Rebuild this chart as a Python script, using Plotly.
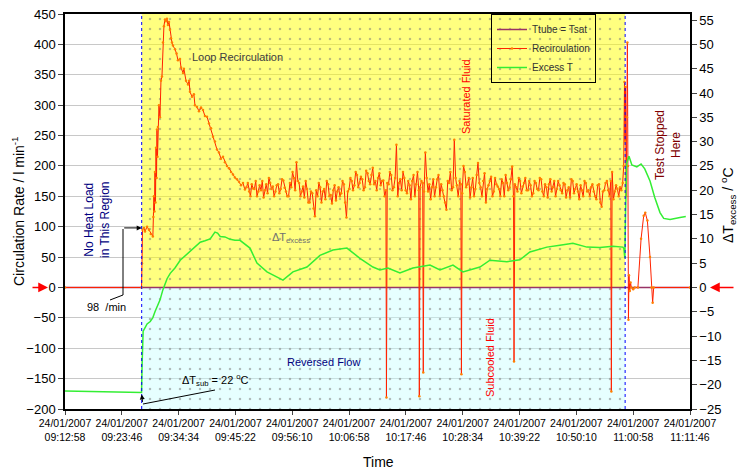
import numpy as np
import pandas as pd
import plotly.graph_objects as go

# ---------------- data ----------------
BASE = pd.Timestamp("2007-01-24 09:12:58")
tick_times = ["09:12:58", "09:23:46", "09:34:34", "09:45:22", "09:56:10", "10:06:58",
              "10:17:46", "10:28:34", "10:39:22", "10:50:10", "11:00:58", "11:11:46"]
tick_date = "24/01/2007"

heat_on_min = 14.58      # start of heat load (minutes after 09:12:58)
test_stop_min = 106.47   # test stopped
axis_end_min = 118.8

ttube_min = [0.0, 118.8]
ttube_val = [0, 0]

recirc_rise_min = [0.0, 14.55, 14.63, 14.73, 15.0, 15.2, 15.6, 15.96, 16.3, 16.7,
                   16.8, 16.9, 17.0, 17.1, 17.2, 17.3, 17.4, 17.48, 17.58, 17.67,
                   17.86, 18.05, 18.24, 18.43, 18.62, 18.8, 19.0, 19.2, 19.38, 19.57,
                   19.77, 19.96, 20.15, 20.33, 20.52, 20.91, 21.2, 21.47, 21.85, 22.05,
                   22.43, 22.6, 23.0, 23.38, 23.6, 23.75, 24.14, 24.5, 24.7, 25.09,
                   25.47, 25.85, 26.23, 26.6, 26.99, 27.37, 27.75, 28.13, 28.5, 28.89,
                   29.27, 29.65, 30.03, 30.4, 30.79, 31.17, 31.55, 31.93, 32.3, 32.69,
                   33.07, 33.45, 33.83, 34.2]
recirc_rise_val = [0, 0, 40, 95, 98, 92, 100, 95, 88, 84,
                   116, 150, 125, 190, 140, 230, 180, 260, 215, 264,
                   300, 280, 340, 347, 403, 430, 441, 438, 442, 432,
                   437, 424, 410, 403, 398, 392, 385, 374, 376, 362,
                   353, 360, 340, 334, 340, 322, 314, 318, 300, 297,
                   290, 296, 292, 282, 281, 270, 262, 248, 240, 227,
                   222, 212, 215, 206, 200, 196, 190, 186, 181, 178,
                   174, 168, 172, 161]

# steady two-phase band, logged every 0.25 min from 34.5 to 106.0 min
# (even samples at 34.5, 35.0, ... and odd samples at 34.75, 35.25, ...)
band_start_min = 34.5
band_step_min = 0.5
recirc_band_even = [
    165, 158, 170, 162, 150, 168, 175, 160, 155, 172, 166, 158,
    170, 162, 176, 158, 150, 165, 180, 206, 172, 158, 148, 162,
    140, 155, 117, 150, 165, 158, 145, 170, 152, 160, 143, 165,
    155, 170, 115, 162, 175, 168, 185, 172, 178, 165, 188, 170,
    197, 175, 180, 168, 176, 160, 170, 185, 165, 235, 172, 160,
    180, 155, 168, 175, 150, 190, 165, 172, 222, 158, 145, 178,
    165, 185, 170, 150, 128, 172, 160, 243, 168, 175, 155, 190,
    170, 148, 180, 162, 205, 165, 175, 140, 168, 182, 158, 170,
    162, 178, 150, 172, 165, 199, 170, 158, 175, 166, 180, 160,
    168, 155, 172, 160, 178, 150, 165, 170, 158, 175, 162, 168,
    155, 170, 160, 148, 175, 162, 158, 168, 150, 172, 160, 165,
    158, 145, 170, 133, 160, 175, 150, 190, 158, 162, 165, 172,
]
recirc_band_odd = [
    172, 150, 163, 175, 158, 160, 148, 170, 180, 162, 150, 168,
    155, 178, 164, 150, 172, 190, 160, 175, 150, 166, 175, 140,
    158, 130, 160, 172, 140, 162, 175, 150, 138, 168, 158, 150,
    175, 140, 158, 180, 160, 190, 165, 182, 160, 192, 175, 185,
    170, 160, 188, 175, 150, 172, 190, 160, 180, 150, 178, 190,
    160, 175, 145, 185, 170, 160, 175, 158, 180, 170, 165, 150,
    178, 150, 160, 140, 175, 190, 165, 180, 150, 170, 200, 165,
    180, 165, 150, 185, 172, 150, 188, 162, 175, 150, 180, 166,
    150, 172, 185, 160, 178, 150, 165, 180, 155, 172, 160, 175,
    150, 175, 162, 180, 158, 170, 148, 178, 165, 150, 175, 160,
    172, 148, 165, 178, 155, 170, 145, 160, 175, 158, 150, 170,
    150, 168, 140, 158, 172, 160, 175, 145, 168, 150, 160,
]
spike_min = [61.1, 67.35, 68.1, 75.35, 85.35, 103.85]
spike_val = [-181, -179, -140, -143, -122, -171]

recirc_end_min = [106.2, 106.35, 106.45, 106.55, 106.65, 106.8, 106.9, 107.0, 107.1, 107.2,
                  107.35, 107.5, 107.65, 108.0, 108.3, 108.9, 109.5, 110.0, 110.3, 110.7,
                  111.2, 111.5, 111.7, 111.9, 118.8]
recirc_end_val = [200, 338, 240, 330, 150, 280, 403, 200, -53, 20,
                  -6, 8, 0, -3, 0, 0, 80, 118, 123, 110,
                  50, 0, -25, 0, 0]

excess_min = [0, 5, 10, 14.55, 14.65, 14.75, 14.85, 15.2, 15.6, 16.2,
              16.7, 17.1, 17.5, 18.05, 18.6, 19.0, 19.4, 20.0, 20.9, 21.9,
              22.8, 23.8, 24.7, 25.7, 26.6, 27.6, 28.5, 29.0, 29.5, 30.4,
              31.4, 32.3, 33.26, 35.16, 36.49, 38.39, 41.43, 43.33, 45.99, 48.46,
              50.93, 53.59, 56.06, 58.53, 59.86, 61.38, 63.66, 66.13, 69.37, 71.27,
              73.74, 75.64, 78.87, 80.77, 84.0, 86.47, 88.37, 91.6, 94.07, 96.54,
              99.2, 101.67, 104.14, 106.04, 106.23, 106.42, 106.5, 106.6, 106.75, 107.2,
              107.75, 108.7, 109.5, 110.2, 111.2, 112.1, 113.1, 113.8, 115.0, 116.9,
              118.0]
excess_val = [-21.3, -21.4, -21.5, -21.6, -16, -12, -9, -8.3, -7.5, -7.0,
              -6.2, -5.0, -3.8, -2.6, -0.5, 0.8, 1.8, 2.9, 4.0, 5.6,
              6.5, 7.6, 8.4, 9.3, 9.6, 10.0, 11.4, 11.2, 10.5, 10.4,
              9.9, 9.7, 9.7, 8.1, 5.0, 3.2, 1.5, 3.2, 4.2, 6.6,
              7.7, 8.1, 6.0, 4.2, 3.6, 4.0, 3.0, 4.0, 4.6, 3.6,
              4.6, 3.2, 4.2, 5.6, 5.3, 5.7, 7.3, 8.3, 8.7, 9.1,
              8.3, 8.2, 8.5, 8.3, 8.0, 6.0, 12, 20, 25.5, 27.0,
              25.2, 24.8, 25.4, 24.4, 21.9, 18.5, 15.4, 14.2, 14.0, 14.4,
              14.6]

# ---------------- build ----------------
def to_time(mins):
    return BASE + pd.to_timedelta(np.asarray(mins, dtype=float), unit="min")

even_min = [band_start_min + band_step_min * i for i in range(len(recirc_band_even))]
odd_min = [band_start_min + band_step_min / 2 + band_step_min * i for i in range(len(recirc_band_odd))]
rec = sorted(zip(recirc_rise_min + even_min + odd_min + spike_min + recirc_end_min,
                 recirc_rise_val + recirc_band_even + recirc_band_odd + spike_val + recirc_end_val))
rec_min = [r[0] for r in rec]
rec_val = [r[1] for r in rec]

t_on = to_time([heat_on_min])[0]
t_off = to_time([test_stop_min])[0]

FONT = "Liberation Sans, Arial, sans-serif"
fig = go.Figure()

# shaded regions
fig.add_trace(go.Scatter(x=[t_on, t_off, t_off, t_on, t_on], y=[0, 0, 450, 450, 0],
                         fill="toself", mode="lines", line=dict(width=0),
                         fillcolor="rgba(255,255,0,0.5)",
                         fillpattern=dict(shape=".", bgcolor="rgba(255,255,0,0.5)",
                                          fgcolor="#777777", size=10, solidity=0.05),
                         showlegend=False, hoverinfo="skip"))
fig.add_trace(go.Scatter(x=[t_on, t_off, t_off, t_on, t_on], y=[-200, -200, 0, 0, -200],
                         fill="toself", mode="lines", line=dict(width=0),
                         fillcolor="rgba(200,255,255,0.45)",
                         fillpattern=dict(shape=".", bgcolor="rgba(200,255,255,0.45)",
                                          fgcolor="#777777", size=10, solidity=0.05),
                         showlegend=False, hoverinfo="skip"))

fig.add_trace(go.Scatter(x=to_time(ttube_min), y=ttube_val, mode="lines",
                         name="Ttube = Tsat", line=dict(color="#993366", width=1.5)))
fig.add_trace(go.Scatter(x=to_time(rec_min), y=rec_val, mode="lines+markers",
                         name="Recirculation", line=dict(color="#FF2200", width=1),
                         marker=dict(color="#FF8000", size=2.5)))
fig.add_trace(go.Scatter(x=to_time(excess_min), y=excess_val, mode="lines", yaxis="y2",
                         name="Excess T", line=dict(color="#33EE33", width=1.5)))

def px_x(px):
    return (px - 65) / 625.0

def px_y(py):
    return (409 - py) / 395.0

shapes = [
    dict(type="line", xref="x", yref="paper", x0=t_on, x1=t_on, y0=0, y1=1,
         line=dict(color="#0000FF", width=1, dash="dot")),
    dict(type="line", xref="x", yref="paper", x0=t_off, x1=t_off, y0=0, y1=1,
         line=dict(color="#0000FF", width=1, dash="dot")),
    # 98 /min leader
    dict(type="line", xref="paper", yref="paper", x0=px_x(110), y0=px_y(300),
         x1=px_x(123), y1=px_y(295), line=dict(color="black", width=1)),
    dict(type="line", xref="paper", yref="paper", x0=px_x(123), y0=px_y(295),
         x1=px_x(123), y1=px_y(229), line=dict(color="black", width=1)),
    # dT sub leader
    dict(type="line", xref="paper", yref="paper", x0=px_x(215), y0=px_y(390),
         x1=px_x(143), y1=px_y(404), line=dict(color="black", width=1)),
]

ann = []
def txt(text, px, py, size=11, color="#333333", angle=0):
    ann.append(dict(text=text, x=px_x(px), y=px_y(py), xref="paper", yref="paper",
                    showarrow=False, textangle=angle, xanchor="center", yanchor="middle",
                    font=dict(family=FONT, size=size, color=color)))

txt("Loop Recirculation", 237, 57, 11, "#404040")
txt("ΔT<sub>excess</sub>", 291, 238, 11, "#707070")
txt("Reversed Flow", 323, 362, 11, "#000080")
txt("Saturated Fluid", 466, 96, 11, "#FF0000", -90)
txt("Subcooled Fluid", 490, 358, 11, "#FF0000", -90)
txt("No Heat Load<br>in This Region", 97, 220, 12, "#000080", -90)
txt("Test Stopped<br>Here", 668, 145, 12, "#800000", -90)
txt("98  /min", 106, 307, 11, "black")
txt("ΔT<sub>sub</sub> = 22 <sup>o</sup>C", 215, 380, 11, "black")
txt("Circulation Rate / l min<sup>-1</sup>", 18, 211, 14, "black", -90)
txt("ΔT<sub>excess</sub> / <sup>o</sup>C", 728, 205, 14, "black", -90)
txt("Time", 378, 462, 14, "black")

# arrows
ann.append(dict(x=t_on, y=98, xref="x", yref="y", ax=-19, ay=0, text="", showarrow=True,
                arrowhead=2, arrowsize=1, arrowwidth=1, arrowcolor="black"))
ann.append(dict(x=t_on, y=-22, xref="x", yref="y2", ax=1, ay=9, text="", showarrow=True,
                arrowhead=2, arrowsize=1, arrowwidth=1, arrowcolor="black"))
ann.append(dict(x=px_x(48), y=0, xref="paper", yref="y", ax=-17, ay=0, text="",
                showarrow=True, arrowhead=2, arrowsize=1.3, arrowwidth=1.5, arrowcolor="#FF0000"))
ann.append(dict(x=px_x(710), y=0, xref="paper", yref="y", ax=25, ay=0, text="",
                showarrow=True, arrowhead=2, arrowsize=1.3, arrowwidth=1.5, arrowcolor="#FF0000"))

fig.update_layout(
    width=741, height=470,
    margin=dict(l=65, r=51, t=14, b=61),
    paper_bgcolor="white", plot_bgcolor="white",
    font=dict(family=FONT, size=12, color="black"),
    shapes=shapes, annotations=ann,
    legend=dict(x=px_x(491), y=1.0, xanchor="left", yanchor="top",
                bgcolor="rgba(0,0,0,0)", bordercolor="black", borderwidth=1,
                font=dict(family=FONT, size=10, color="#333333"), tracegroupgap=0),
    xaxis=dict(type="date",
               range=[BASE, to_time([axis_end_min])[0]],
               tickvals=["2007-01-24 " + t for t in tick_times],
               ticktext=[tick_date + "<br>" + t for t in tick_times],
               tickfont=dict(family=FONT, size=10.5), ticks="outside", ticklen=4,
               showline=True, linecolor="black", linewidth=1.5, mirror=True,
               showgrid=False, zeroline=False, automargin=False),
    yaxis=dict(range=[-200, 450], dtick=50, ticks="outside", ticklen=5,
               tickfont=dict(family=FONT, size=13),
               showline=True, linecolor="black", linewidth=1.5,
               showgrid=True, gridcolor="#C8C8C8", gridwidth=1, zeroline=False,
               automargin=False),
    yaxis2=dict(range=[-25, 56.25], overlaying="y", side="right",
                tickvals=list(range(-25, 56, 5)), ticks="outside", ticklen=5,
                tickfont=dict(family=FONT, size=13),
                showline=True, linecolor="black", linewidth=1.5,
                showgrid=False, zeroline=False, automargin=False),
)

fig.write_html("out.html", config={"displayModeBar": False},
               post_script="document.body.style.margin='0px';")
